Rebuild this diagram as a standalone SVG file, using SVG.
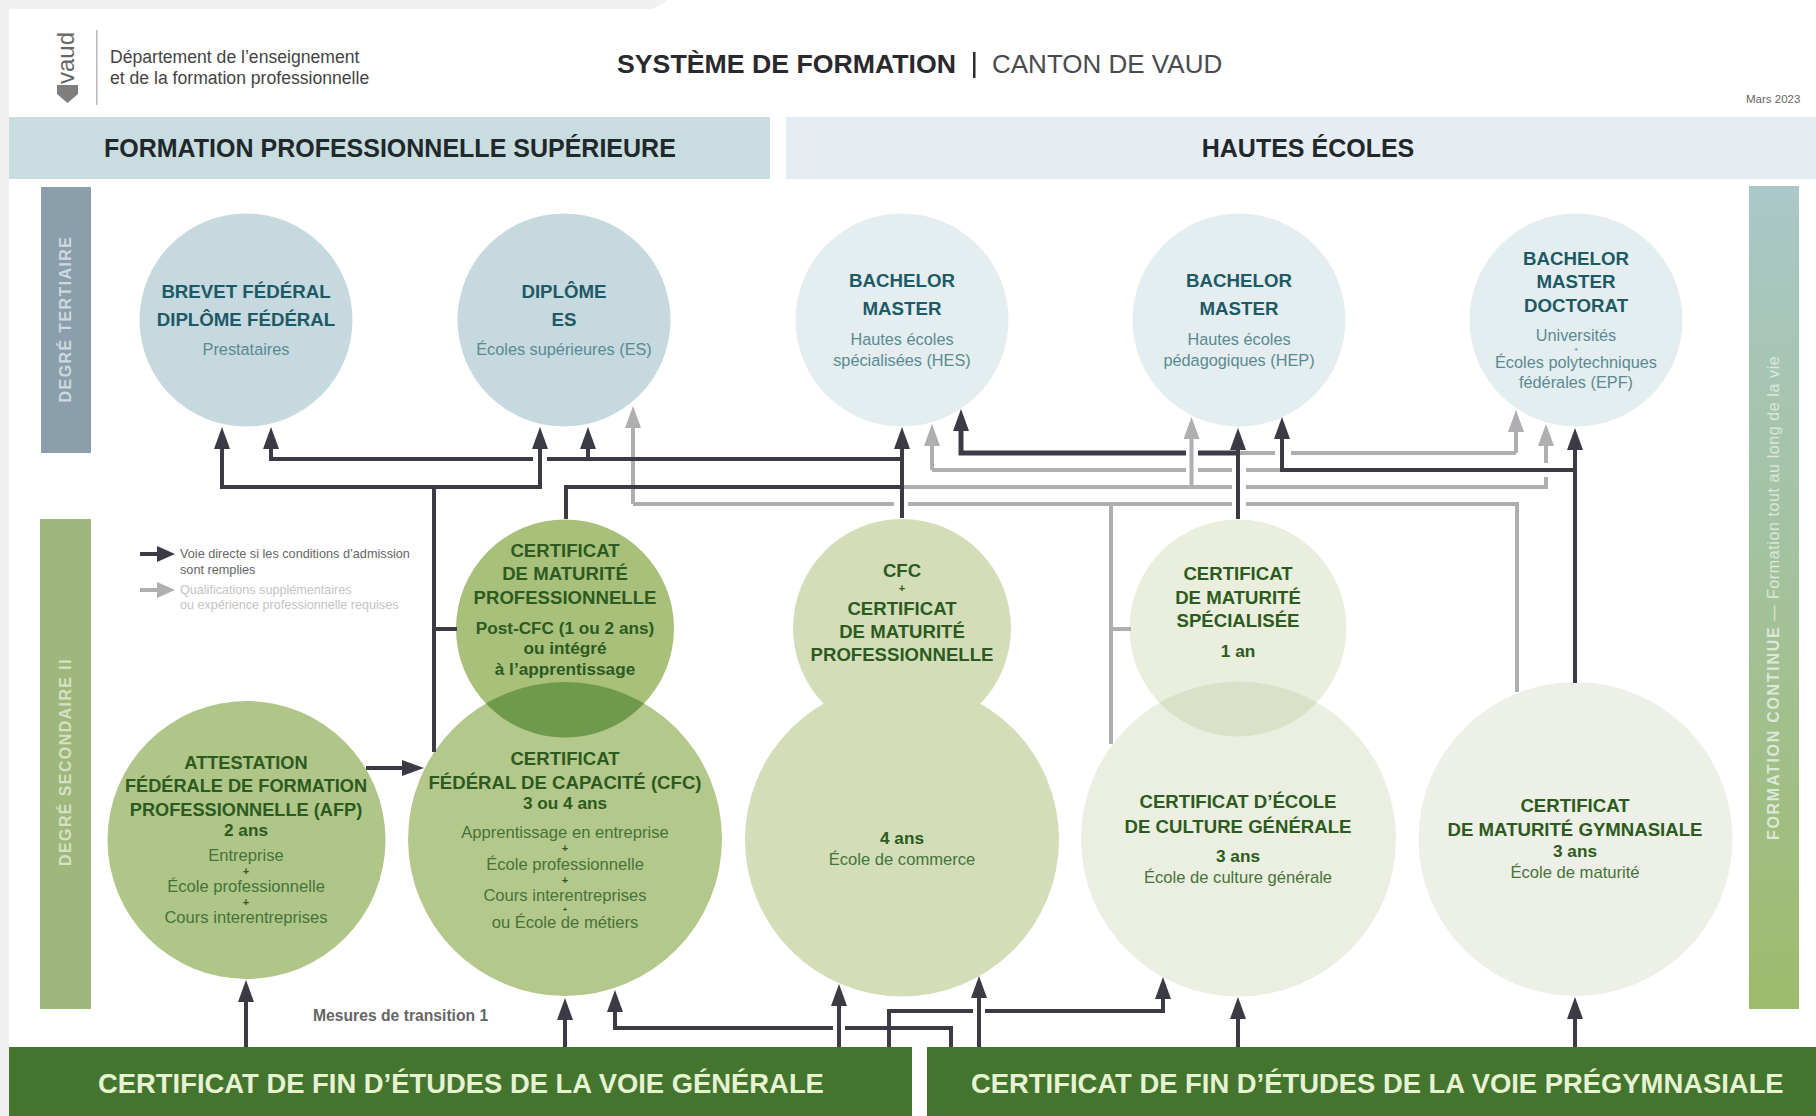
<svg xmlns="http://www.w3.org/2000/svg" width="1816" height="1116" viewBox="0 0 1816 1116">
<style>
text{font-family:"Liberation Sans",Arial,sans-serif}
.m{text-anchor:middle}
.t{font-weight:700;font-size:18.7px;fill:#1d5a66;text-anchor:middle}
.s{font-size:16.3px;fill:#5a8a93;text-anchor:middle}
.g{font-weight:700;font-size:18.6px;fill:#2c5a20;text-anchor:middle}
.gy{font-weight:700;font-size:17.2px;fill:#2c5a20;text-anchor:middle}
.gs{font-size:16.6px;fill:#46733a;text-anchor:middle}
.p{font-weight:700;font-size:11px;fill:#2c5a20;text-anchor:middle}
.h{font-weight:700;font-size:25px;fill:#20282c}
.b{font-weight:700;font-size:27.4px;fill:#e6f2d2}
.side{font-weight:700;font-size:16px;letter-spacing:1.4px}
.d{fill:none;stroke:#3b3b46;stroke-width:4}
.da{fill:none;stroke:#3b3b46;stroke-width:4;marker-end:url(#ad)}
.l{fill:none;stroke:#b0aeb0;stroke-width:4}
.la{fill:none;stroke:#b0aeb0;stroke-width:4;marker-end:url(#al)}
.leg{font-size:12.7px;fill:#666}
.legl{font-size:12.6px;fill:#c4c4c4}
</style>
<defs>
<marker id="ad" markerUnits="userSpaceOnUse" markerWidth="22" markerHeight="16" refX="0" refY="8" orient="auto"><path d="M0,0L22,8L0,16z" fill="#3b3b46"/></marker>
<marker id="al" markerUnits="userSpaceOnUse" markerWidth="22" markerHeight="16" refX="0" refY="8" orient="auto"><path d="M0,0L22,8L0,16z" fill="#b0aeb0"/></marker>
<linearGradient id="gr" x1="0" y1="0" x2="0" y2="1"><stop offset="0" stop-color="#a9c8c8"/><stop offset="1" stop-color="#9dbb6c"/></linearGradient>
<clipPath id="c1"><circle cx="565" cy="839" r="157"/></clipPath>
<clipPath id="c2"><circle cx="1238.5" cy="839" r="157.5"/></clipPath>
</defs>
<rect width="1816" height="1116" fill="#fff"/>
<path d="M0,0H668L653,9H9V1116H0z" fill="#f0f0f0"/>

<g id="header">
<rect x="96" y="30" width="1.5" height="75" fill="#b8b8b8"/>
<path d="M57,85H78V94L67.5,103L57,94z" fill="#7e7e7e"/>
<text transform="translate(74,84) rotate(-90)" font-size="24" fill="#666" textLength="52" lengthAdjust="spacingAndGlyphs">vaud</text>
<text x="110" y="63" font-size="17.6" fill="#444">Département de l’enseignement</text>
<text x="110" y="84" font-size="17.6" fill="#444">et de la formation professionnelle</text>
<text x="617" y="73" font-size="26.7" font-weight="700" fill="#2a2a2e">SYSTÈME DE FORMATION</text>
<rect x="973" y="52" width="2.5" height="26" fill="#2a2a2e"/>
<text x="992" y="73" font-size="26" fill="#4a4a4e">CANTON DE VAUD</text>
<text x="1746" y="103" font-size="11.5" fill="#666">Mars 2023</text>
</g>

<g id="band-superieure"><rect x="9" y="117" width="761" height="62" fill="#c9dce0"/><text class="h" x="104" y="157">FORMATION PROFESSIONNELLE SUPÉRIEURE</text></g>
<g id="band-hautes"><rect x="786" y="117" width="1030" height="62" fill="#e5edf2"/><text class="h m" x="1308" y="157">HAUTES ÉCOLES</text></g>
<g id="side-tertiaire"><rect x="41" y="187" width="50" height="266" fill="#8a9fab"/><text class="side m" transform="translate(71,319) rotate(-90)" fill="#cdd9de">DEGRÉ TERTIAIRE</text></g>
<g id="side-secondaire"><rect x="40" y="519" width="51" height="490" fill="#9db77c"/><text class="side m" transform="translate(71,762) rotate(-90)" fill="#d5e2c2">DEGRÉ SECONDAIRE II</text></g>
<g id="side-continue"><rect x="1749" y="186" width="50" height="823" fill="url(#gr)"/><text transform="translate(1779,840) rotate(-90)" font-size="16" fill="#dce8d8" letter-spacing="0.6"><tspan font-weight="700" letter-spacing="1.7">FORMATION CONTINUE</tspan> — Formation tout au long de la vie</text></g>

<g id="n-brevet"><circle cx="246" cy="320" r="106.5" fill="#c5d9de"/>
<text class="t" x="246" y="298">BREVET FÉDÉRAL</text><text class="t" x="246" y="326">DIPLÔME FÉDÉRAL</text><text class="s" x="246" y="355">Prestataires</text></g>
<g id="n-es"><circle cx="564" cy="320" r="106.5" fill="#c5d9de"/>
<text class="t" x="564" y="298">DIPLÔME</text><text class="t" x="564" y="326">ES</text><text class="s" x="564" y="355">Écoles supérieures (ES)</text></g>
<g id="n-hes"><circle cx="902" cy="320" r="106.5" fill="#e4edef"/>
<text class="t" x="902" y="287">BACHELOR</text><text class="t" x="902" y="315">MASTER</text><text class="s" x="902" y="345">Hautes écoles</text><text class="s" x="902" y="366">spécialisées (HES)</text></g>
<g id="n-hep"><circle cx="1239" cy="320" r="106.5" fill="#e4edef"/>
<text class="t" x="1239" y="287">BACHELOR</text><text class="t" x="1239" y="315">MASTER</text><text class="s" x="1239" y="345">Hautes écoles</text><text class="s" x="1239" y="366">pédagogiques (HEP)</text></g>
<g id="n-epf"><circle cx="1576" cy="320" r="106.5" fill="#e4edef"/>
<text class="t" x="1576" y="265">BACHELOR</text><text class="t" x="1576" y="288">MASTER</text><text class="t" x="1576" y="312">DOCTORAT</text><text class="s" x="1576" y="341">Universités</text><text class="s" x="1576" y="352" style="font-size:8px">+</text><text class="s" x="1576" y="368">Écoles polytechniques</text><text class="s" x="1576" y="388">fédérales (EPF)</text></g>

<g id="n-afp"><circle cx="246.5" cy="840" r="139" fill="#afc688"/>
<text class="g" style="font-size:18.2px" x="246" y="769">ATTESTATION</text><text class="g" style="font-size:18.2px" x="246" y="792">FÉDÉRALE DE FORMATION</text><text class="g" style="font-size:18.2px" x="246" y="816">PROFESSIONNELLE (AFP)</text><text class="gy" x="246" y="836">2 ans</text><text class="gs" x="246" y="861">Entreprise</text><text class="p" x="246" y="875">+</text><text class="gs" x="246" y="892">École professionnelle</text><text class="p" x="246" y="906">+</text><text class="gs" x="246" y="923">Cours interentreprises</text></g>
<g id="n-cfc"><circle cx="565" cy="839" r="157" fill="#b5c88b"/>
<text class="g" x="565" y="765">CERTIFICAT</text><text class="g" x="565" y="789">FÉDÉRAL DE CAPACITÉ (CFC)</text><text class="gy" x="565" y="809">3 ou 4 ans</text><text class="gs" x="565" y="838">Apprentissage en entreprise</text><text class="p" x="565" y="852">+</text><text class="gs" x="565" y="870">École professionnelle</text><text class="p" x="565" y="883.5">+</text><text class="gs" x="565" y="901">Cours interentreprises</text><text class="p" x="565" y="911.5" style="font-size:7px">+</text><text class="gs" x="565" y="928">ou École de métiers</text></g>
<g id="n-cmp"><circle cx="565" cy="628.5" r="109" fill="#a9c07a"/><circle cx="565" cy="628.5" r="109" fill="#6f9a4d" clip-path="url(#c1)"/>
<text class="g" x="565" y="557">CERTIFICAT</text><text class="g" x="565" y="580">DE MATURITÉ</text><text class="g" x="565" y="604">PROFESSIONNELLE</text><text class="gy" x="565" y="634">Post-CFC (1 ou 2 ans)</text><text class="gy" x="565" y="654">ou intégré</text><text class="gy" x="565" y="675">à l’apprentissage</text></g>

<g id="n-commerce"><circle cx="902" cy="628" r="109" fill="#d3deb8"/><circle cx="902" cy="839.5" r="157" fill="#d3deb8"/>
<text class="g" x="902" y="577">CFC</text><text class="p" x="902" y="592">+</text><text class="g" x="902" y="615">CERTIFICAT</text><text class="g" x="902" y="638">DE MATURITÉ</text><text class="g" x="902" y="661">PROFESSIONNELLE</text><text class="gy" x="902" y="844">4 ans</text><text class="gs" x="902" y="865">École de commerce</text></g>
<g id="n-ecg"><circle cx="1238.5" cy="839" r="157.5" fill="#ebefe1"/>
<text class="g" x="1238" y="808">CERTIFICAT D’ÉCOLE</text><text class="g" x="1238" y="833">DE CULTURE GÉNÉRALE</text><text class="gy" x="1238" y="862">3 ans</text><text class="gs" x="1238" y="883">École de culture générale</text></g>
<g id="n-cms"><circle cx="1238" cy="628" r="108.5" fill="#e9eedd"/><circle cx="1238" cy="628" r="108.5" fill="#d9e2c8" clip-path="url(#c2)"/>
<text class="g" x="1238" y="580">CERTIFICAT</text><text class="g" x="1238" y="604">DE MATURITÉ</text><text class="g" x="1238" y="627">SPÉCIALISÉE</text><text class="gy" x="1238" y="657">1 an</text></g>
<g id="n-gym"><circle cx="1575.5" cy="839" r="157" fill="#edf0e6"/>
<text class="g" x="1575" y="812">CERTIFICAT</text><text class="g" x="1575" y="836">DE MATURITÉ GYMNASIALE</text><text class="gy" x="1575" y="857">3 ans</text><text class="gs" x="1575" y="878">École de maturité</text></g>

<g id="bar-generale"><rect x="9" y="1047" width="903" height="69" fill="#44752f"/><text class="b" x="98" y="1093">CERTIFICAT DE FIN D’ÉTUDES DE LA VOIE GÉNÉRALE</text></g>
<g id="bar-pregymnasiale"><rect x="927" y="1047" width="889" height="69" fill="#44752f"/><text class="b" x="971" y="1093">CERTIFICAT DE FIN D’ÉTUDES DE LA VOIE PRÉGYMNASIALE</text></g>

<g id="legend">
<path class="d" d="M140,554H157"/><path d="M157,546L175,554L157,562z" fill="#3b3b46"/>
<path class="l" d="M140,590H157"/><path d="M157,582L175,590L157,598z" fill="#b0aeb0"/>
<text class="leg" x="180" y="558">Voie directe si les conditions d’admission</text><text class="leg" x="180" y="574">sont remplies</text>
<text class="legl" x="180" y="594">Qualifications supplémentaires</text><text class="legl" x="180" y="609">ou expérience professionnelle requises</text>
</g>
<text x="313" y="1021" font-size="15.7" font-weight="700" fill="#666">Mesures de transition 1</text>

<g id="connectors">
<path class="l" d="M633,504H894M908,504H1232M1246,504H1517V692"/>
<path class="l" d="M1111,504V744M1111,629H1131"/>
<path class="la" d="M633,504V428"/>
<path class="l" d="M902,487H1232M1246,487H1546V477"/>
<path class="la" d="M1546,463V446"/>
<path class="la" d="M1191.5,487V439"/>
<path class="la" d="M932,470V446"/>
<path class="l" d="M932,470H1186M1198,470H1232M1246,470H1282"/>
<path class="l" d="M1238,453H1275M1291,453H1516"/>
<path class="la" d="M1516,453V432"/>

<path class="d" d="M434,487V752M434,629H457"/>
<path class="da" d="M434,487H222V449"/>
<path class="da" d="M434,487H540V449"/>
<path class="da" d="M533,459H271V449"/>
<path class="d" d="M547,459H902"/>
<path class="da" d="M588,459V449"/>
<path class="d" d="M566,519V487H902"/>
<path class="da" d="M902,518V449"/>
<path class="da" d="M1186,453H961V431" style="stroke-width:5"/>
<path class="d" d="M1198,453H1238" style="stroke-width:5"/>
<path class="da" d="M1238,519V450"/>
<path class="da" d="M1575,470H1282V439"/>
<path class="da" d="M1575,683V450"/>

<path class="da" d="M246,1047V1002"/>
<path class="da" d="M565,1047V1020"/>
<path class="da" d="M833,1028H615V1012"/>
<path class="d" d="M845,1028H951V1047"/>
<path class="da" d="M839,1047V1006"/>
<path class="da" d="M979,1047V998"/>
<path class="d" d="M889,1047V1011H973"/>
<path class="da" d="M985,1011H1163V999"/>
<path class="da" d="M1238,1047V1019"/>
<path class="da" d="M1575,1047V1019"/>
<path class="da" d="M366,768H402"/>
</g>
</svg>
